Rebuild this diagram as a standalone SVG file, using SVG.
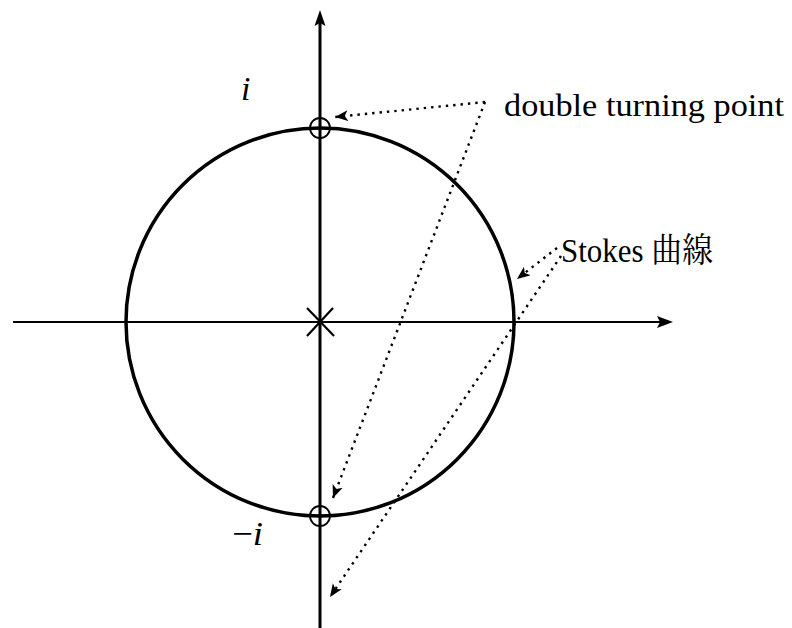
<svg xmlns="http://www.w3.org/2000/svg" width="792" height="628" viewBox="0 0 792 628">
<style>
.axis{stroke:#000;fill:none}
.dot{stroke:#000;stroke-width:2.4;stroke-dasharray:2.4 5;fill:none}
.lbl{font-family:"Liberation Serif","Noto Serif CJK JP","Noto Sans CJK JP",serif;font-size:32px;fill:#000}
.big{font-size:34px}
.math{font-family:"Liberation Serif",serif;font-style:italic;font-size:34px;fill:#000}
</style>
<defs>
<marker id="ah" viewBox="0 0 12 10" refX="12" refY="5" markerWidth="13" markerHeight="11" markerUnits="userSpaceOnUse" orient="auto">
<path d="M0,0 L12,5 L0,10 L3,5 z" fill="#000"/>
</marker>
</defs>
<rect width="792" height="628" fill="#fff"/>
<g id="axes">
<line class="axis" x1="13" y1="322" x2="662" y2="322" stroke-width="2.2"/>
<polygon points="673,322 657,316 660,322 657,328" fill="#000"/>
<line class="axis" x1="320" y1="628" x2="320" y2="22" stroke-width="3"/>
<polygon points="320,10 314.5,26 320,23 325.5,26" fill="#000"/>
</g>
<g id="stokes-circle">
<circle cx="320" cy="322" r="194" fill="none" stroke="#000" stroke-width="3.5"/>
</g>
<g id="pole">
<line x1="307" y1="308" x2="334" y2="336" stroke="#000" stroke-width="2.2"/>
<line x1="333" y1="308" x2="307" y2="336" stroke="#000" stroke-width="2.2"/>
</g>
<g id="turning-point-top">
<circle cx="320" cy="128" r="10" fill="none" stroke="#000" stroke-width="1.8"/>
</g>
<g id="turning-point-bottom">
<circle cx="320" cy="516" r="10" fill="none" stroke="#000" stroke-width="1.8"/>
</g>
<g id="label-i"><text class="math" x="241" y="100">i</text></g>
<g id="label-minus-i"><text class="math" x="232" y="545" textLength="31" lengthAdjust="spacingAndGlyphs"><tspan font-style="normal">−</tspan>i</text></g>
<g id="label-double"><text class="lbl" x="504" y="116" textLength="280" lengthAdjust="spacingAndGlyphs">double turning point</text></g>
<g id="label-stokes"><text class="lbl big" x="561" y="262" textLength="152" lengthAdjust="spacingAndGlyphs">Stokes 曲線</text></g>
<g id="connectors">
<line class="dot" x1="485" y1="102" x2="335" y2="117" marker-end="url(#ah)"/>
<line class="dot" x1="485" y1="102" x2="333" y2="498" marker-end="url(#ah)"/>
<line class="dot" x1="557" y1="248" x2="517" y2="279" marker-end="url(#ah)"/>
<line class="dot" x1="561" y1="256" x2="330" y2="597" marker-end="url(#ah)"/>
</g>
</svg>
